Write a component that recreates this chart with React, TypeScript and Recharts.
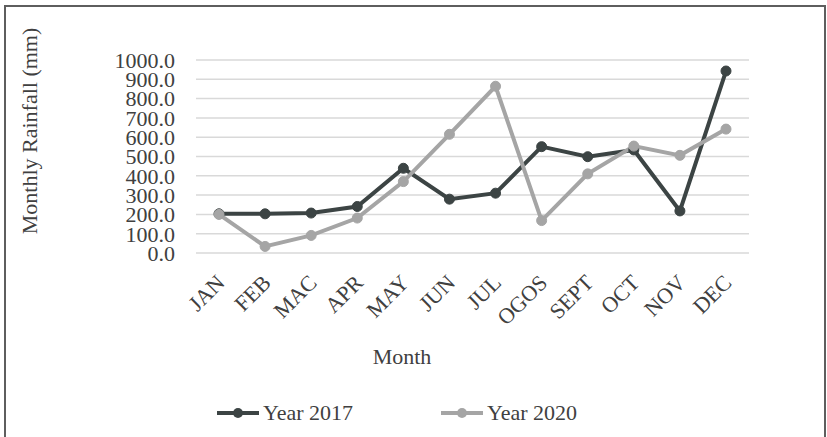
import React from 'react';
import { LineChart, Line, XAxis, YAxis, CartesianGrid } from 'recharts';

const months = ['JAN', 'FEB', 'MAC', 'APR', 'MAY', 'JUN', 'JUL', 'OGOS', 'SEPT', 'OCT', 'NOV', 'DEC'];
const rain2017 = [203, 203, 207, 241, 439, 279, 310, 551, 499, 534, 218, 943];
const rain2020 = [200, 34, 91, 181, 370, 615, 864, 168, 410, 554, 506, 642];
const yTicks = [0, 100, 200, 300, 400, 500, 600, 700, 800, 900, 1000];

const data = months.map((m, i) => ({ month: m, y2017: rain2017[i], y2020: rain2020[i] }));

const FONT = '"Liberation Serif", "Times New Roman", serif';
const TEXT = '#404040';
const DARK = '#3c4444';
const LIGHT = '#a5a5a5';

const MonthTick = ({ x, y, payload }: any) => (
  <text
    x={x + 7}
    y={y + 31}
    transform={`rotate(-45, ${x + 7}, ${y + 31})`}
    textAnchor="end"
    fontFamily={FONT}
    fontSize={22}
    fill={TEXT}
  >
    {payload.value}
  </text>
);

const LegendItem = ({ color, label }: { color: string; label: string }) => (
  <div style={{ display: 'flex', alignItems: 'center' }}>
    <svg width={42} height={12} style={{ marginRight: 4 }}>
      <line x1={0} y1={6} x2={42} y2={6} stroke={color} strokeWidth={4} />
      <circle cx={21} cy={6} r={5} fill={color} />
    </svg>
    <span style={{ fontFamily: FONT, fontSize: 22, color: TEXT }}>{label}</span>
  </div>
);

const App = () => {
  return (
    <div style={{ position: 'absolute', left: 0, top: 0, width: 827, height: 437, overflow: 'hidden', background: '#fff' }}>
      <div
        style={{
          position: 'absolute',
          left: 4,
          top: 5,
          width: 818,
          height: 440,
          borderTop: '2px solid #5e5e5e',
          borderLeft: '2px solid #5e5e5e',
          borderRight: '2px solid #5e5e5e',
        }}
      />
      <div style={{ position: 'absolute', left: 0, top: 0 }}>
        <LineChart width={827} height={437} data={data} margin={{ top: 60, right: 78, left: 0, bottom: 0 }}>
          <CartesianGrid vertical={false} stroke="#d9d9d9" strokeWidth={1.5} />
          <XAxis
            dataKey="month"
            height={184}
            axisLine={false}
            tickLine={false}
            tickSize={0}
            tickMargin={0}
            interval={0}
            padding={{ left: 23, right: 23 }}
            tick={<MonthTick />}
            label={{
              content: () => (
                <text x={402} y={364} textAnchor="middle" fontFamily={FONT} fontSize={22} fill={TEXT}>
                  Month
                </text>
              ),
            }}
          />
          <YAxis
            width={196}
            domain={[0, 1000]}
            ticks={yTicks}
            interval={0}
            axisLine={false}
            tickLine={false}
            tickSize={0}
            tickMargin={21}
            tickFormatter={(v: number) => v.toFixed(1)}
            tick={{ fontFamily: FONT, fontSize: 22, fill: TEXT }}
            label={{
              content: () => (
                <text
                  x={37}
                  y={131}
                  transform="rotate(-90, 37, 131)"
                  textAnchor="middle"
                  fontFamily={FONT}
                  fontSize={22}
                  fill={TEXT}
                >
                  Monthly Rainfall (mm)
                </text>
              ),
            }}
          />
          <Line
            dataKey="y2017"
            stroke={DARK}
            strokeWidth={4}
            dot={{ r: 5, fill: DARK, stroke: DARK, strokeWidth: 1 }}
            isAnimationActive={false}
          />
          <Line
            dataKey="y2020"
            stroke={LIGHT}
            strokeWidth={4}
            dot={{ r: 5, fill: LIGHT, stroke: LIGHT, strokeWidth: 1 }}
            isAnimationActive={false}
          />
        </LineChart>
      </div>
      <div style={{ position: 'absolute', left: 217, top: 400, display: 'flex', gap: 88 }}>
        <LegendItem color={DARK} label="Year 2017" />
        <LegendItem color={LIGHT} label="Year 2020" />
      </div>
    </div>
  );
};

export default App;
